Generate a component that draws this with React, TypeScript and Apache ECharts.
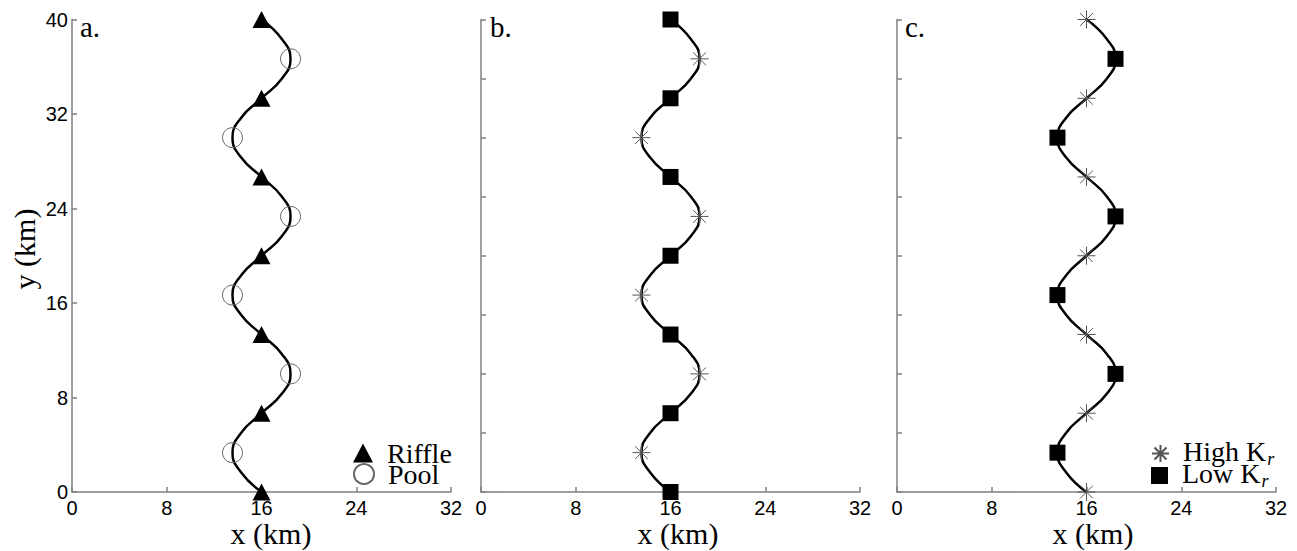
import React, { useEffect, useRef } from "react";
import * as echarts from "echarts";

// Channel centreline (x in km, y in km) at 1/8-wavelength steps
const curveY = [0, 1.67, 3.33, 5, 6.67, 8.33, 10, 11.67, 13.33, 15, 16.67, 18.33, 20, 21.67, 23.33, 25, 26.67, 28.33, 30, 31.67, 33.33, 35, 36.67, 38.33, 40];
const curveX = [16, 14.27, 13.55, 14.27, 16, 17.73, 18.45, 17.73, 16, 14.27, 13.55, 14.27, 16, 17.73, 18.45, 17.73, 16, 14.27, 13.55, 14.27, 16, 17.73, 18.45, 17.73, 16];

// Crossing points (centreline at x = 16)
const crossX = [16, 16, 16, 16, 16, 16, 16];
const crossY = [0, 6.67, 13.33, 20, 26.67, 33.33, 40];

// Bend apexes
const apexX = [13.55, 18.45, 13.55, 18.45, 13.55, 18.45];
const apexY = [3.33, 10, 16.67, 23.33, 30, 36.67];

const xTicks = { min: 0, max: 32, interval: 8 };
const panelLabels = ["a.", "b.", "c."];
const xName = "x (km)";
const yName = "y (km)";

const SERIF = "Liberation Serif";
const SANS = "Liberation Sans";
const AXIS_GRAY = "#808080";
const ASTERISK =
  "path://M0,-10L0,10M-10,0L10,0M-7.07,-7.07L7.07,7.07M-7.07,7.07L7.07,-7.07";

const pairs = (xs: number[], ys: number[]) => xs.map((x, i) => [x, ys[i]]);

export default function App() {
  const ref = useRef<HTMLDivElement>(null);

  useEffect(() => {
    if (!ref.current) return;
    const chart = echarts.init(ref.current, null, { renderer: "svg" });

    const grids = [
      { left: 72, top: 19.5, width: 379, height: 472.5, outerBoundsMode: "none", containLabel: false },
      { left: 481, top: 19.5, width: 379, height: 472.5, outerBoundsMode: "none", containLabel: false },
      { left: 897, top: 19.5, width: 379, height: 472.5, outerBoundsMode: "none", containLabel: false },
    ];

    const xAxes = grids.map((_, i) => ({
      type: "value",
      gridIndex: i,
      min: xTicks.min,
      max: xTicks.max,
      interval: xTicks.interval,
      axisLine: { show: true, lineStyle: { color: AXIS_GRAY, width: 1.5 } },
      axisTick: { show: true, inside: true, length: 5, lineStyle: { color: AXIS_GRAY, width: 1.5 } },
      axisLabel: { color: "#000", fontSize: 20, fontFamily: SANS, margin: 6 },
      splitLine: { show: false },
    }));

    const yAxes = grids.map((_, i) => ({
      type: "value",
      gridIndex: i,
      min: 0,
      max: 40,
      interval: i === 0 ? 8 : 5,
      axisLine: { show: true, lineStyle: { color: AXIS_GRAY, width: 1.5 } },
      axisTick: { show: true, inside: true, length: 5, lineStyle: { color: AXIS_GRAY, width: 1.5 } },
      axisLabel: { show: i === 0, color: "#000", fontSize: 20, fontFamily: SANS, margin: 4 },
      splitLine: { show: false },
    }));

    const curve = pairs(curveX, curveY);
    const cross = pairs(crossX, crossY);
    const apex = pairs(apexX, apexY);

    const lineSeries = (i: number) => ({
      type: "line",
      name: "centreline" + i,
      xAxisIndex: i,
      yAxisIndex: i,
      data: curve,
      smooth: true,
      showSymbol: false,
      lineStyle: { color: "#000", width: 2.5 },
      z: 2,
    });

    const triangle = (name: string, i: number, data: number[][]) => ({
      type: "scatter", name, xAxisIndex: i, yAxisIndex: i, data,
      symbol: "triangle", symbolSize: [18, 17],
      itemStyle: { color: "#000", opacity: 1 }, z: 3,
    });
    const circle = (name: string, i: number, data: number[][]) => ({
      type: "scatter", name, xAxisIndex: i, yAxisIndex: i, data,
      symbol: "circle", symbolSize: 20,
      itemStyle: { color: "transparent", borderColor: "#666", borderWidth: 1, opacity: 1 }, z: 3,
    });
    const square = (name: string, i: number, data: number[][]) => ({
      type: "scatter", name, xAxisIndex: i, yAxisIndex: i, data,
      symbol: "rect", symbolSize: 16,
      itemStyle: { color: "#000", opacity: 1 }, z: 3,
    });
    const asterisk = (name: string, i: number, data: number[][]) => ({
      type: "scatter", name, xAxisIndex: i, yAxisIndex: i, data,
      symbol: ASTERISK, symbolSize: 18,
      itemStyle: { color: "transparent", borderColor: "#555", borderWidth: 1, opacity: 1 }, z: 3,
    });

    const legendItem = (name: string, left: number, top: number, size: number[], rich: boolean) => ({
      data: [name],
      orient: "vertical",
      left,
      top,
      padding: 0,
      itemWidth: size[0],
      itemHeight: size[1],
      selectedMode: false,
      formatter: rich ? (n: string) => "{m|" + n.slice(0, -1) + "}{s|r}" : undefined,
      textStyle: {
        color: "#000",
        fontSize: 28,
        fontFamily: SERIF,
        padding: [0, 0, 0, 9],
        rich: rich
          ? {
              m: { fontSize: 28, fontFamily: SERIF, color: "#000", lineHeight: 30, padding: [0, 0, 5, 0] },
              s: { fontSize: 18, fontFamily: SERIF, fontStyle: "italic", color: "#000", lineHeight: 30, padding: [10, 0, 0, 1] },
            }
          : undefined,
      },
    });

    const panelText = panelLabels.map((t, i) => ({
      type: "text",
      left: [80, 490, 905][i],
      top: 12,
      style: { text: t, fontSize: 29, fontFamily: SERIF, fill: "#000" },
      silent: true,
    }));

    const xNames = [271, 678, 1093].map((cx) => ({
      type: "text",
      x: cx,
      y: 533,
      style: { text: xName, fontSize: 30, fontFamily: SERIF, fill: "#000", align: "center", verticalAlign: "middle" },
      silent: true,
    }));

    const yNameText = {
      type: "text",
      x: 24,
      y: 249,
      rotation: Math.PI / 2,
      style: { text: yName, fontSize: 30, fontFamily: SERIF, fill: "#000", align: "center", verticalAlign: "middle" },
      silent: true,
    };

    const option = {
      animation: false,
      grid: grids,
      xAxis: xAxes,
      yAxis: yAxes,
      legend: [
        legendItem("Riffle", 353, 439, [20, 19], false),
        legendItem("Pool", 353, 460, [20, 20], false),
        legendItem("High Kr", 1151, 437, [17, 17], true),
        legendItem("Low Kr", 1151, 459, [17, 17], true),
      ],
      graphic: [...panelText, ...xNames, yNameText],
      series: [
        lineSeries(0),
        triangle("Riffle", 0, cross),
        circle("Pool", 0, apex),
        lineSeries(1),
        square("Riffle b", 1, cross),
        asterisk("Pool b", 1, apex),
        lineSeries(2),
        asterisk("High Kr", 2, cross),
        square("Low Kr", 2, apex),
      ],
    };

    chart.setOption(option as any);
    return () => chart.dispose();
  }, []);

  return (
    <div
      ref={ref}
      style={{ position: "absolute", left: 0, top: 0, width: 1297, height: 551 }}
    />
  );
}
